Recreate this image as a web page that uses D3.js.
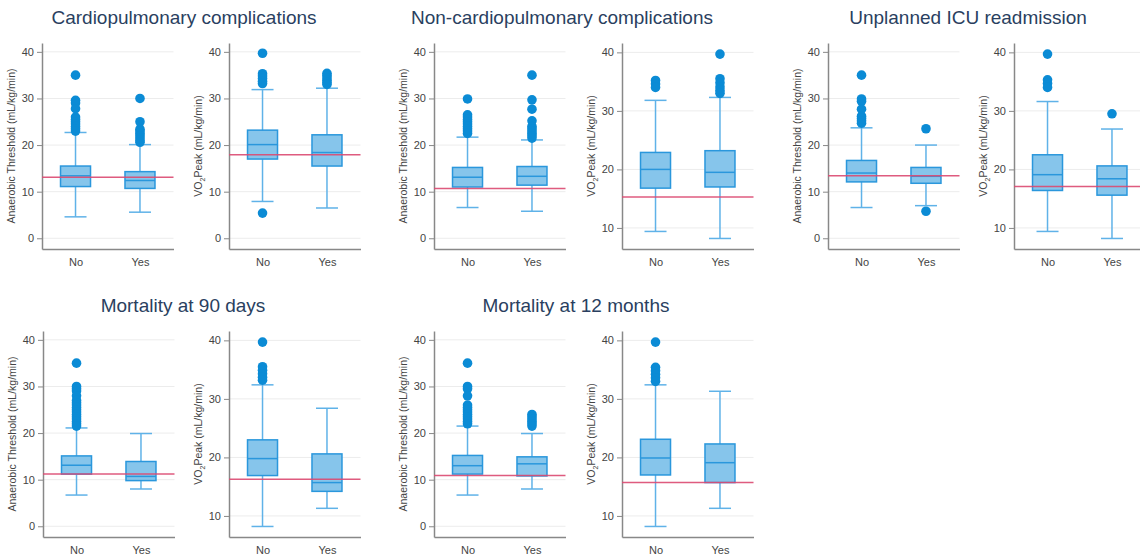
<!DOCTYPE html>
<html>
<head>
<meta charset="utf-8">
<script src="https://cdn.jsdelivr.net/npm/d3@7"></script>
<style>
  body { margin: 0; background: #fff; font-family: Arial, "Liberation Sans", sans-serif; }
</style>
</head>
<body>
<script>
// categories and tick labels
var categories = ["No", "Yes"];
var atTicks = [0, 10, 20, 30, 40];
var vo2Ticks = [10, 20, 30, 40];
var groupTitles = ["Cardiopulmonary complications", "Non-cardiopulmonary complications",
                   "Unplanned ICU readmission", "Mortality at 90 days", "Mortality at 12 months"];

// box stats per group: [lower whisker, Q1, median, Q3, upper whisker] for No / Yes
var cpAT  = [[4.6, 11.1, 13.4, 15.5, 22.7], [5.6, 10.7, 12.4, 14.3, 20.1]];
var cpVO2 = [[7.9, 17.0, 20.1, 23.2, 31.9], [6.5, 15.5, 18.4, 22.2, 32.2]];
var ncAT  = [[6.6, 11.0, 13.1, 15.2, 21.7], [5.8, 11.4, 13.3, 15.4, 21.1]];
var ncVO2 = [[9.4, 16.8, 20.0, 22.9, 31.8], [8.2, 17.0, 19.5, 23.2, 32.3]];
var icuAT = [[6.6, 12.1, 14.0, 16.7, 23.7], [7.0, 11.8, 13.3, 15.2, 20.0]];
var icuVO2 = [[9.4, 16.4, 19.1, 22.5, 31.6], [8.2, 15.6, 18.4, 20.6, 26.9]];
var m90AT = [[6.7, 11.2, 13.1, 15.1, 21.1], [8.0, 9.8, 10.7, 13.9, 19.9]];
var m90VO2 = [[8.2, 16.9, 19.8, 23.0, 32.4], [11.3, 14.2, 15.7, 20.6, 28.4]];
var m12AT = [[6.7, 11.2, 13.0, 15.2, 21.5], [8.0, 10.8, 13.4, 14.9, 19.9]];
var m12VO2 = [[8.2, 17.0, 19.9, 23.1, 32.4], [11.3, 15.7, 19.1, 22.3, 31.3]];

// outliers for No / Yes
var cpATOut  = [[35, 29.6, 29, 27.8, 26, 25.5, 25, 24.5, 24, 23.5, 23], [30, 25, 23.4, 23, 22.5, 22, 21.5, 21, 20.6]];
var cpVO2Out = [[39.7, 35.3, 34.8, 34.3, 33.7, 33.2, 5.4], [35.4, 34.9, 34.4, 33.9, 33.4, 33.0]];
var ncATOut  = [[29.9, 26.5, 26, 25.5, 25, 24.5, 24, 23.5, 23, 22.5], [35, 29.7, 27.7, 25.2, 24, 23.5, 23, 22.5, 22, 21.5]];
var ncVO2Out = [[35.2, 34.6, 34.0], [39.7, 35.5, 34.8, 34.1, 33.5, 33.0]];
var icuATOut = [[35, 29.9, 29.4, 27.7, 26.2, 25.7, 25.2, 24.7], [23.5, 5.8]];
var icuVO2Out = [[39.7, 35.3, 34.7, 34.0], [29.5]];
var m90ATOut = [[35, 30, 29.5, 29, 28, 27, 26.5, 26, 25.5, 25, 24.5, 24, 23.5, 23, 22.5, 22, 21.5], []];
var m90VO2Out = [[39.7, 35.5, 34.9, 34.3, 33.7, 33.2], []];
var m12ATOut = [[35, 30, 29.5, 28, 26, 25.5, 25, 24.5, 24, 23.5, 23, 22.5, 22], [24, 23.5, 23, 22.5, 22, 21.5]];
var m12VO2Out = [[39.7, 35.4, 34.8, 34.2, 33.6, 33.0], []];

// reference (red) line values
var refValues = [13.1, 17.9, 10.7, 15.3, 13.4, 17.1, 11.2, 16.25, 10.9, 15.7];

window.onload = function(){
    var svg = d3.select("body").append("svg")
        .attr("width", 1140)
        .attr("height", 559);

    var plotW = 131.5, plotH = 206;
    var atDomain = [-2.3, 41.9], vo2Domain = [6.4, 41.6];

    var panels = [
        {x: 42,  y: 43,  stats: cpAT,   out: cpATOut,   ticks: atTicks,  domain: atDomain,  vo2: false},
        {x: 229, y: 43,  stats: cpVO2,  out: cpVO2Out,  ticks: atTicks,  domain: atDomain,  vo2: true},
        {x: 434, y: 43,  stats: ncAT,   out: ncATOut,   ticks: atTicks,  domain: atDomain,  vo2: false},
        {x: 622, y: 43,  stats: ncVO2,  out: ncVO2Out,  ticks: vo2Ticks, domain: vo2Domain, vo2: true},
        {x: 828, y: 43,  stats: icuAT,  out: icuATOut,  ticks: atTicks,  domain: atDomain,  vo2: false},
        {x: 1014, y: 43, stats: icuVO2, out: icuVO2Out, ticks: vo2Ticks, domain: vo2Domain, vo2: true},
        {x: 43,  y: 331, stats: m90AT,  out: m90ATOut,  ticks: atTicks,  domain: atDomain,  vo2: false},
        {x: 229, y: 331, stats: m90VO2, out: m90VO2Out, ticks: vo2Ticks, domain: vo2Domain, vo2: true},
        {x: 434, y: 331, stats: m12AT,  out: m12ATOut,  ticks: atTicks,  domain: atDomain,  vo2: false},
        {x: 622, y: 331, stats: m12VO2, out: m12VO2Out, ticks: vo2Ticks, domain: vo2Domain, vo2: true}
    ];

    //group titles
    var titlePos = [[184, 24], [562, 24], [968, 24], [183, 312], [576, 312]];
    svg.selectAll(".title")
        .data(groupTitles)
        .enter()
        .append("text")
        .attr("class", "title")
        .attr("x", function(d, i){ return titlePos[i][0]; })
        .attr("y", function(d, i){ return titlePos[i][1]; })
        .attr("text-anchor", "middle")
        .style("font-size", "19px")
        .style("fill", "#2a3f5f")
        .text(function(d){ return d; });

    panels.forEach(function(p, i){
        drawPanel(svg, p, refValues[i], plotW, plotH);
    });
};

function drawPanel(svg, p, ref, plotW, plotH){
    var g = svg.append("g").attr("transform", "translate(" + p.x + "," + p.y + ")");

    var y = d3.scaleLinear().domain(p.domain).range([plotH, 0]);
    var x = d3.scalePoint().domain(categories).range([0, plotW]).padding(0.52);
    var boxW = 30, capW = 22;

    //gridlines
    g.selectAll(".grid")
        .data(p.ticks)
        .enter()
        .append("line")
        .attr("x1", 0).attr("x2", plotW)
        .attr("y1", function(d){ return y(d); })
        .attr("y2", function(d){ return y(d); })
        .style("stroke", "#ececec")
        .style("stroke-width", 1);

    //y axis
    var yAxis = g.append("g")
        .call(d3.axisLeft(y).tickValues(p.ticks).tickSize(5).tickSizeOuter(0).tickPadding(3));
    yAxis.select(".domain").style("stroke", "#888").style("stroke-width", 1.5);
    yAxis.selectAll(".tick line").style("stroke", "#888");
    yAxis.selectAll(".tick text").style("font-size", "11px").style("fill", "#444")
        .style("font-family", "Arial, 'Liberation Sans', sans-serif");

    //x axis
    var xAxis = g.append("g")
        .attr("transform", "translate(0," + plotH + ")")
        .call(d3.axisBottom(x).tickSize(0).tickSizeOuter(0).tickPadding(9));
    xAxis.select(".domain").style("stroke", "#888").style("stroke-width", 1.5);
    xAxis.selectAll(".tick text").style("font-size", "11px").style("fill", "#444")
        .style("font-family", "Arial, 'Liberation Sans', sans-serif");

    //y label
    var lab = g.append("text")
        .attr("transform", "translate(-27," + (plotH / 2) + ") rotate(-90)")
        .attr("text-anchor", "middle")
        .style("font-size", "10.5px")
        .style("fill", "#444");
    if (p.vo2){
        lab.append("tspan").text("VO");
        lab.append("tspan").attr("dy", 3).style("font-size", "7px").text("2");
        lab.append("tspan").attr("dy", -3).text("Peak (mL/kg/min)");
    } else {
        lab.text("Anaerobic Threshold (mL/kg/min)");
    }

    //whiskers
    var boxes = g.selectAll(".box")
        .data(p.stats)
        .enter()
        .append("g")
        .attr("transform", function(d, i){ return "translate(" + x(categories[i]) + ",0)"; });

    boxes.append("line")
        .attr("x1", 0).attr("x2", 0)
        .attr("y1", function(d){ return y(d[0]); })
        .attr("y2", function(d){ return y(d[4]); })
        .style("stroke", "#5fb2e8").style("stroke-width", 1.5);
    boxes.selectAll(".cap")
        .data(function(d){ return [d[0], d[4]]; })
        .enter()
        .append("line")
        .attr("x1", -capW / 2).attr("x2", capW / 2)
        .attr("y1", function(d){ return y(d); })
        .attr("y2", function(d){ return y(d); })
        .style("stroke", "#5fb2e8").style("stroke-width", 1.5);

    boxes.append("rect")
        .attr("x", -boxW / 2)
        .attr("width", boxW)
        .attr("y", function(d){ return y(d[3]); })
        .attr("height", function(d){ return y(d[1]) - y(d[3]); })
        .style("fill", "#86c5eb")
        .style("stroke", "#2a97dc")
        .style("stroke-width", 1.5);

    boxes.append("line")
        .attr("x1", -boxW / 2).attr("x2", boxW / 2)
        .attr("y1", function(d){ return y(d[2]); })
        .attr("y2", function(d){ return y(d[2]); })
        .style("stroke", "#2a97dc").style("stroke-width", 1.5);

    //outliers
    p.out.forEach(function(vals, i){
        g.selectAll(".out" + i)
            .data(vals)
            .enter()
            .append("circle")
            .attr("cx", x(categories[i]))
            .attr("cy", function(d){ return y(d); })
            .attr("r", 4.8)
            .style("fill", "#0b8bd5");
    });

    //reference line
    g.append("line")
        .attr("x1", 0).attr("x2", plotW)
        .attr("y1", y(ref)).attr("y2", y(ref))
        .style("stroke", "#dc4a72")
        .style("stroke-width", 1.5)
        .style("opacity", 0.9);
}
</script>
</body>
</html>
